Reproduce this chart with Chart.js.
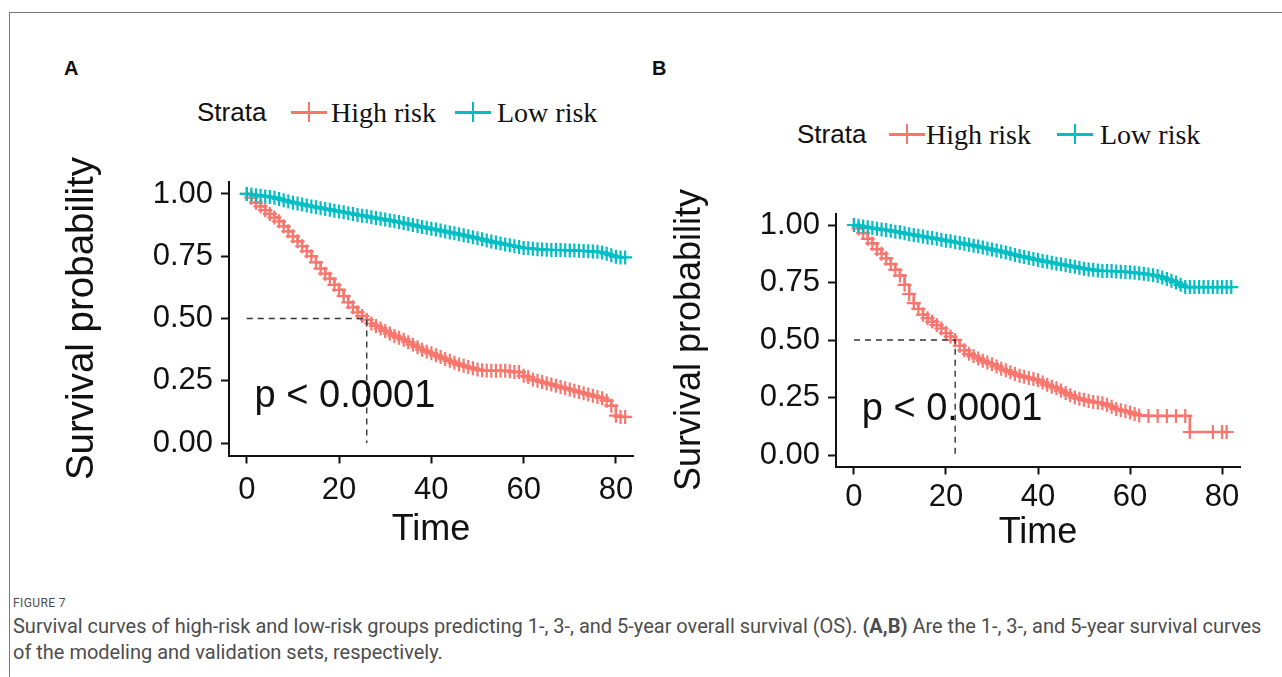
<!DOCTYPE html>
<html>
<head>
<meta charset="utf-8">
<script src="https://cdn.jsdelivr.net/npm/chart.js@4.4.1/dist/chart.umd.min.js"></script>
<style>
body{margin:0;background:#fff;width:1282px;height:677px;overflow:hidden;position:relative;font-family:"Liberation Sans",Arial,sans-serif;color:#111}
.frame{position:absolute;left:9px;top:12px;width:1273px;height:665px;border-left:1px solid #7a7a7a;border-top:1px solid #7a7a7a;box-sizing:border-box}
.letter{position:absolute;font:bold 20px "Liberation Sans",Arial,sans-serif;line-height:20px}
.plot{position:absolute}
.lg{position:absolute;white-space:nowrap;line-height:30px;height:30px}
.lg .ttl{font:26px "Liberation Sans",Arial,sans-serif}
.lg .lab{font:28px "Liberation Serif","Times New Roman",serif}
.key{position:absolute;top:5px;width:36px;height:20px}
.key::before{content:'';position:absolute;left:0;right:0;top:9px;height:3px;background:currentColor}
.key::after{content:'';position:absolute;left:17px;top:0;width:2px;height:20px;background:currentColor}
.cap{position:absolute;left:13px;color:#4d4d4d;white-space:nowrap;font-family:Roboto,"Open Sans",sans-serif}
.cap.fig{top:596px;font-size:12px;letter-spacing:0.4px;line-height:14px}
.cap.l1{top:614px;font-size:16px;line-height:24px}
.cap.l2{top:640px;font-size:16px;line-height:24px}
</style>
</head>
<body>
<div class="frame"></div>
<div class="letter" style="left:64px;top:58px">A</div>
<div class="letter" style="left:652px;top:58px">B</div>

<div class="lg" id="legA" style="top:97px;left:0"></div>
<div class="lg" id="legB" style="top:119px;left:0"></div>

<div class="plot" style="left:40px;top:140px"><canvas id="chartA" width="610" height="420"></canvas></div>
<div class="plot" style="left:648px;top:170px"><canvas id="chartB" width="620" height="400"></canvas></div>

<div class="cap fig">FIGURE 7</div>
<div class="cap l1" id="capLine1">Survival curves of high-risk and low-risk groups predicting 1-, 3-, and 5-year overall survival (OS). <b>(A,B)</b> Are the 1-, 3-, and 5-year survival curves</div>
<div class="cap l2" id="capLine2">of the modeling and validation sets, respectively.</div>

<script>
// --- data ---
const strata = ['High risk', 'Low risk'];
const xTicks = [0, 20, 40, 60, 80];
const yTicks = [0, 0.25, 0.5, 0.75, 1];
const medianTimes = [26, 22];   // A, B
const pText = 'p < 0.0001';

// panel A (modeling set)
const timeA_high = [0,1,2,3,4,5,6,7,8,9,10,11,12,13,14,15,16,17,18,19,20,21,22,23,24,25,26,27,28,29,30,31,32,33,34,35,36,37,38,39,40,41,42,43,44,45,46,47,48,49,50,51,52,53,54,55,56,57,58,59,60,61,62,63,64,65,66,67,68,69,70,71,72,73,74,75,76,77,78,79,80,81,82];
const survA_high = [1.00,0.985,0.965,0.95,0.935,0.92,0.905,0.89,0.87,0.85,0.83,0.81,0.79,0.77,0.75,0.725,0.70,0.68,0.66,0.635,0.615,0.59,0.565,0.545,0.525,0.51,0.495,0.48,0.47,0.46,0.45,0.44,0.43,0.423,0.415,0.405,0.395,0.385,0.375,0.367,0.36,0.352,0.345,0.337,0.33,0.322,0.315,0.31,0.305,0.30,0.295,0.292,0.29,0.29,0.29,0.29,0.29,0.288,0.285,0.285,0.27,0.265,0.255,0.25,0.245,0.24,0.235,0.23,0.225,0.22,0.215,0.21,0.205,0.20,0.195,0.19,0.185,0.18,0.17,0.15,0.11,0.105,0.105];
const timeA_low = [0,1,2,3,4,5,6,7,8,9,10,11,12,13,14,15,16,17,18,19,20,21,22,23,24,25,26,27,28,29,30,31,32,33,34,35,36,37,38,39,40,41,42,43,44,45,46,47,48,49,50,51,52,53,54,55,56,57,58,59,60,61,62,63,64,65,66,67,68,69,70,71,72,73,74,75,76,77,78,79,80,81,82];
const survA_low = [1.00,0.998,0.995,0.993,0.99,0.988,0.985,0.98,0.975,0.97,0.965,0.962,0.958,0.954,0.95,0.947,0.943,0.94,0.937,0.933,0.93,0.927,0.923,0.92,0.916,0.913,0.91,0.906,0.903,0.9,0.897,0.893,0.89,0.887,0.883,0.879,0.875,0.871,0.867,0.864,0.86,0.857,0.853,0.849,0.845,0.842,0.838,0.834,0.83,0.826,0.822,0.818,0.813,0.809,0.805,0.801,0.797,0.794,0.79,0.787,0.783,0.782,0.78,0.778,0.777,0.776,0.775,0.775,0.775,0.774,0.773,0.773,0.772,0.771,0.77,0.769,0.768,0.765,0.76,0.754,0.748,0.745,0.745];

// panel B (validation set)
const timeB_high = [0,1,2,3,4,5,6,7,8,9,10,11,12,13,14,15,16,17,18,19,20,21,22,23,24,25,26,27,28,29,30,31,32,33,34,35,36,37,38,39,40,41,42,43,44,45,46,47,48,49,50,51,52,53,54,55,56,57,58,59,60,61,62,64,66,68,70,72,73,78,80,81];
const survB_high = [1.00,0.985,0.965,0.94,0.92,0.895,0.875,0.855,0.83,0.805,0.78,0.74,0.70,0.66,0.635,0.61,0.595,0.58,0.565,0.55,0.53,0.515,0.50,0.475,0.455,0.44,0.43,0.42,0.41,0.402,0.395,0.385,0.375,0.368,0.36,0.352,0.345,0.34,0.335,0.33,0.325,0.315,0.305,0.297,0.29,0.28,0.27,0.26,0.25,0.245,0.24,0.235,0.23,0.228,0.225,0.218,0.21,0.20,0.195,0.19,0.185,0.178,0.172,0.17,0.17,0.17,0.17,0.17,0.10,0.10,0.10,0.10];
const timeB_low = [0,1,2,3,4,5,6,7,8,9,10,11,12,13,14,15,16,17,18,19,20,21,22,23,24,25,26,27,28,29,30,31,32,33,34,35,36,37,38,39,40,41,42,43,44,45,46,47,48,49,50,51,52,53,54,55,56,57,58,59,60,61,62,63,64,65,66,67,68,69,70,71,72,73,74,75,76,77,78,79,80,81,82];
const survB_low = [1.00,0.997,0.993,0.99,0.987,0.984,0.98,0.978,0.975,0.971,0.968,0.964,0.96,0.957,0.953,0.95,0.946,0.943,0.94,0.936,0.932,0.929,0.925,0.922,0.918,0.914,0.91,0.906,0.902,0.898,0.893,0.889,0.885,0.88,0.875,0.87,0.865,0.861,0.857,0.852,0.848,0.844,0.84,0.836,0.832,0.829,0.825,0.822,0.818,0.814,0.81,0.807,0.805,0.802,0.80,0.80,0.80,0.798,0.797,0.796,0.795,0.792,0.79,0.788,0.785,0.782,0.778,0.772,0.765,0.758,0.75,0.74,0.73,0.73,0.73,0.73,0.73,0.73,0.73,0.73,0.73,0.73,0.73];

const colors = ['#F8766D', '#00BFC4'];
const ink = '#111';

// --- legends (html) ---
function buildLegend(el, pos) {
  el.innerHTML =
    `<span class="ttl" style="position:absolute;left:${pos[0]}px">Strata</span>` +
    strata.map((s, i) =>
      `<span class="key" style="left:${pos[1 + i * 2]}px;color:${colors[i]}"></span>` +
      `<span class="lab" style="position:absolute;left:${pos[2 + i * 2]}px">${s}</span>`).join('');
}
buildLegend(document.getElementById('legA'), [197, 291, 331, 455, 497]);
buildLegend(document.getElementById('legB'), [797, 889, 926, 1057, 1100]);

// --- charts ---
const pvalPlugin = {
  id: 'pval',
  afterDatasetsDraw(chart, args, opts) {
    const {ctx, scales: {x, y}} = chart;
    ctx.save();
    ctx.font = '38px "Liberation Sans", Arial, sans-serif';
    ctx.fillStyle = ink;
    ctx.textBaseline = 'middle';
    ctx.fillText(opts.text, x.getPixelForValue(opts.x), y.getPixelForValue(opts.y));
    ctx.restore();
  }
};

function kmSet(label, times, surv, color) {
  return {
    label, data: times.map((t, i) => ({x: t, y: surv[i]})),
    borderColor: color, backgroundColor: color, borderWidth: 2.5,
    stepped: 'before', pointStyle: 'cross', pointRadius: 7, pointBorderWidth: 2.2,
    pointHoverRadius: 7, fill: false, clip: false
  };
}

function medianSet(t) {
  return {
    label: 'median', data: [{x: 0, y: 0.5}, {x: t, y: 0.5}, {x: t, y: 0}],
    borderColor: '#333', borderWidth: 1.4, borderDash: [6, 5], pointRadius: 0, fill: false
  };
}

function makeChart(id, high, low, med, L) {
  return new Chart(document.getElementById(id), {
    type: 'line',
    data: {
      datasets: [
        medianSet(med),
        kmSet(strata[1], low[0], low[1], colors[1]),
        kmSet(strata[0], high[0], high[1], colors[0])
      ]
    },
    plugins: [pvalPlugin],
    options: {
      responsive: false,
      animation: false,
      events: [],
      layout: {padding: {left: 0, top: L.padTop, right: L.padRight, bottom: 0}},
      plugins: {
        legend: {display: false},
        tooltip: {enabled: false},
        pval: {text: pText, x: 1.7, y: L.pY}
      },
      scales: {
        x: {
          type: 'linear', min: L.xMin, max: L.xMax,
          afterBuildTicks: s => { s.ticks = xTicks.map(v => ({value: v})); },
          afterFit: s => { s.height = L.xAxisH; },
          grid: {drawOnChartArea: false, drawTicks: true, tickLength: 8, tickWidth: 2, tickColor: ink},
          border: {display: true, color: ink, width: 2},
          ticks: {color: ink, font: {family: 'Liberation Sans', size: 31}, padding: L.xTickPad, maxRotation: 0, autoSkip: false},
          title: {display: true, text: 'Time', color: ink, font: {family: 'Liberation Sans', size: 36}, padding: {top: 0, bottom: L.xTitlePad}}
        },
        y: {
          type: 'linear', min: -0.05, max: 1.05,
          afterBuildTicks: s => { s.ticks = yTicks.map(v => ({value: v})); },
          afterFit: s => { s.width = L.yAxisW; },
          grid: {drawOnChartArea: false, drawTicks: true, tickLength: 8, tickWidth: 2, tickColor: ink},
          border: {display: true, color: ink, width: 2},
          ticks: {color: ink, font: {family: 'Liberation Sans', size: 31}, padding: 8, callback: v => v.toFixed(2)},
          title: {display: true, text: 'Survival probability', color: ink, font: {family: 'Liberation Sans', size: L.yTitleSize}, padding: {top: L.yTitlePad, bottom: 0}}
        }
      }
    }
  });
}

makeChart('chartA', [timeA_high, survA_high], [timeA_low, survA_low], medianTimes[0],
  {padTop: 41.5, padRight: 17, xAxisH: 104.5, yAxisW: 189, xMin: -3.85, xMax: 83.7, xTickPad: 8, xTitlePad: 8, pY: 0.185, yTitleSize: 38.5, yTitlePad: 19});
makeChart('chartB', [timeB_high, survB_high], [timeB_low, survB_low], medianTimes[1],
  {padTop: 43.5, padRight: 28, xAxisH: 103.5, yAxisW: 188, xMin: -3.9, xMax: 83.9, xTickPad: 4, xTitlePad: 15, pY: 0.196, yTitleSize: 36, yTitlePad: 20});

// scale the caption so line 1 spans the same width as in the original
const cap1 = document.getElementById('capLine1');
const cap2 = document.getElementById('capLine2');
const fs = 16 * 1249 / cap1.getBoundingClientRect().width;
cap1.style.fontSize = fs + 'px';
cap2.style.fontSize = fs + 'px';
</script>
</body>
</html>
